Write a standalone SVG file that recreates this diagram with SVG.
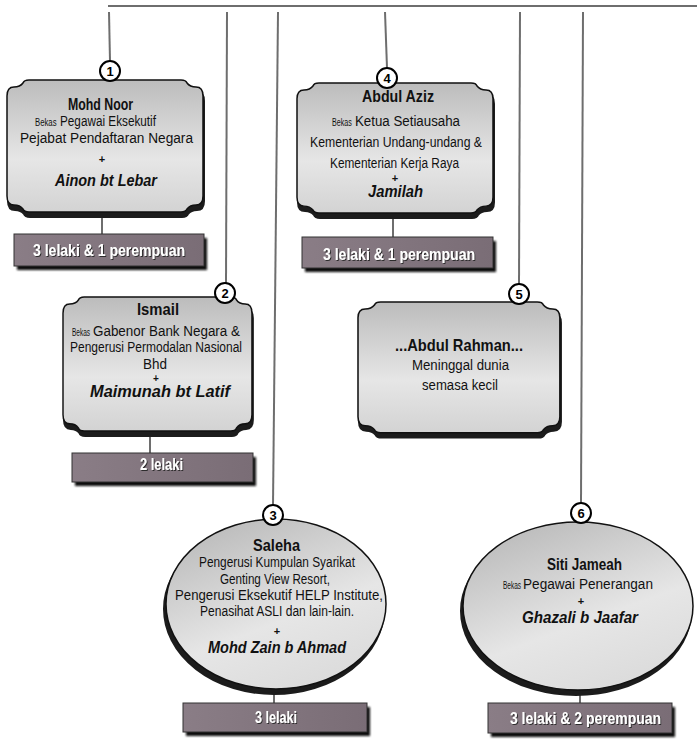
<svg xmlns="http://www.w3.org/2000/svg" width="697" height="739" viewBox="0 0 697 739">
<defs>
<linearGradient id="gBox" x1="0" y1="0" x2="0" y2="1">
<stop offset="0" stop-color="#bcbcbc"/><stop offset="0.6" stop-color="#e6e6e6"/><stop offset="1" stop-color="#d3d3d3"/>
</linearGradient>
<linearGradient id="gEll" x1="0.1" y1="0" x2="0.6" y2="1">
<stop offset="0" stop-color="#b6b6b6"/><stop offset="0.65" stop-color="#e6e6e6"/><stop offset="1" stop-color="#dcdcdc"/>
</linearGradient>
<linearGradient id="gLab" x1="0" y1="0" x2="1" y2="0">
<stop offset="0" stop-color="#8a7d86"/><stop offset="1" stop-color="#7a6d76"/>
</linearGradient>
<filter id="ts" x="-10%" y="-40%" width="120%" height="180%"><feDropShadow dx="1" dy="1" stdDeviation="0.4" flood-color="#222" flood-opacity="0.9"/></filter>
<filter id="bl" x="-10%" y="-20%" width="120%" height="150%"><feGaussianBlur stdDeviation="1.2"/></filter>
<path id="scroll" d="M22,0 H174 Q179,0 180,3 Q183,7 189,7 Q196,7 196,16 V116 Q196,125 189,125 Q183,125 180,129 Q179,132 174,132 H22 Q17,132 16,129 Q13,125 7,125 Q0,125 0,116 V16 Q0,7 7,7 Q13,7 16,3 Q17,0 22,0 Z"/>
</defs>
<style>
.ln{stroke:#6e6e6e;stroke-width:2;fill:none}
.box{fill:url(#gBox);stroke:#111;stroke-width:1.5}
.ell{fill:url(#gEll);stroke:#111;stroke-width:1.5}
.shd{fill:#1c1c1c;stroke:#1c1c1c;stroke-width:2}
.num circle{fill:#fff;stroke:#000;stroke-width:2}
text{font-family:"Liberation Sans Narrow","Liberation Sans",Arial,sans-serif;fill:#111}
.nm{font-weight:bold;font-size:16.5px}
.sp{font-weight:bold;font-style:italic;font-size:16px}
.tx{font-size:14px}
.sm{font-size:10.5px}
.pl{font-weight:bold;font-size:11px;text-anchor:middle}
.bg{fill:url(#gLab);stroke:#333;stroke-width:1}
.bs{fill:#111;filter:url(#bl)}
.lt{fill:#fff;font-weight:bold;font-size:17px;filter:url(#ts)}
.nt{font-weight:bold;font-size:13px;text-anchor:middle;fill:#000}
</style>

<g id="connectors">
<line class="ln" x1="108" y1="6" x2="697" y2="6"/>
<line class="ln" x1="109" y1="12" x2="110" y2="61"/>
<line class="ln" x1="227" y1="12" x2="226" y2="283"/>
<line class="ln" x1="278" y1="12" x2="273" y2="505"/>
<line class="ln" x1="385" y1="12" x2="387" y2="68"/>
<line class="ln" x1="520" y1="12" x2="519" y2="284"/>
<line class="ln" x1="583" y1="12" x2="581" y2="503"/>
<line class="ln" x1="102" y1="214" x2="102" y2="234"/>
<line class="ln" x1="393" y1="216" x2="393" y2="237"/>
<line class="ln" x1="150" y1="434" x2="150" y2="453"/>
<line class="ln" x1="274" y1="690" x2="274" y2="703"/>
<line class="ln" x1="580" y1="690" x2="580" y2="703"/>
</g>

<g id="node1">
<g transform="translate(7,80)">
<use href="#scroll" class="shd" transform="translate(1,5)"/>
<use href="#scroll" class="box"/>
</g>
<g class="num"><circle cx="110" cy="71" r="10"/><text class="nt" x="110" y="75.5">1</text></g>
<text class="nm" x="68" y="110" textLength="65" lengthAdjust="spacingAndGlyphs">Mohd Noor</text>
<text class="sm" transform="translate(35,126) scale(0.74,1)">Bekas</text>
<text class="tx" x="60" y="126" textLength="96" lengthAdjust="spacingAndGlyphs">Pegawai Eksekutif</text>
<text class="tx" x="20" y="143" textLength="173" lengthAdjust="spacingAndGlyphs">Pejabat Pendaftaran Negara</text>
<text class="pl" x="102" y="163">+</text>
<text class="sp" x="55" y="186" textLength="102" lengthAdjust="spacingAndGlyphs">Ainon bt Lebar</text>
</g>
<g id="label1">
<rect class="bs" x="17" y="238" width="190" height="32"/>
<rect class="bg" x="14" y="234" width="190" height="32"/>
<text class="lt" x="33" y="256" textLength="152" lengthAdjust="spacingAndGlyphs">3 lelaki &amp; 1 perempuan</text>
</g>

<g id="node4">
<g transform="translate(297,83) scale(1,0.985)">
<use href="#scroll" class="shd" transform="translate(1,5)"/>
<use href="#scroll" class="box"/>
</g>
<g class="num"><circle cx="387" cy="78" r="10"/><text class="nt" x="387" y="82.5">4</text></g>
<text class="nm" x="362" y="102" textLength="72" lengthAdjust="spacingAndGlyphs">Abdul Aziz</text>
<text class="sm" transform="translate(332,126) scale(0.68,1)">Bekas</text>
<text class="tx" x="355" y="126" textLength="105" lengthAdjust="spacingAndGlyphs">Ketua Setiausaha</text>
<text class="tx" x="310" y="147" textLength="172" lengthAdjust="spacingAndGlyphs">Kementerian Undang-undang &amp;</text>
<text class="tx" x="330" y="168" textLength="129" lengthAdjust="spacingAndGlyphs">Kementerian Kerja Raya</text>
<text class="pl" x="395" y="182">+</text>
<text class="sp" x="368" y="197" textLength="55" lengthAdjust="spacingAndGlyphs">Jamilah</text>
</g>
<g id="label4">
<rect class="bs" x="305" y="241" width="191" height="31"/>
<rect class="bg" x="302" y="237" width="191" height="31"/>
<text class="lt" x="323" y="260" textLength="152" lengthAdjust="spacingAndGlyphs">3 lelaki &amp; 1 perempuan</text>
</g>

<g id="node2">
<g transform="translate(63,297) scale(0.964,1.015)">
<use href="#scroll" class="shd" transform="translate(1,5)"/>
<use href="#scroll" class="box"/>
</g>
<g class="num"><circle cx="225" cy="293" r="10"/><text class="nt" x="225" y="297.5">2</text></g>
<text class="nm" x="137" y="315" textLength="42" lengthAdjust="spacingAndGlyphs">Ismail</text>
<text class="sm" transform="translate(72,336) scale(0.62,1)">Bekas</text>
<text class="tx" x="93" y="336" textLength="147" lengthAdjust="spacingAndGlyphs">Gabenor Bank Negara &amp;</text>
<text class="tx" x="70" y="352" textLength="172" lengthAdjust="spacingAndGlyphs">Pengerusi Permodalan Nasional</text>
<text class="tx" x="143" y="369" textLength="24" lengthAdjust="spacingAndGlyphs">Bhd</text>
<text class="pl" x="156" y="382" style="font-size:10px">+</text>
<text class="sp" x="90" y="397" textLength="140" lengthAdjust="spacingAndGlyphs">Maimunah bt Latif</text>
</g>
<g id="label2">
<rect class="bs" x="75" y="457" width="181" height="29"/>
<rect class="bg" x="72" y="453" width="181" height="29"/>
<text class="lt" x="140" y="470" textLength="43" lengthAdjust="spacingAndGlyphs">2 lelaki</text>
</g>

<g id="node5">
<g transform="translate(358,302) scale(1.03,0.99)">
<use href="#scroll" class="shd" transform="translate(1,5)"/>
<use href="#scroll" class="box"/>
</g>
<g class="num"><circle cx="519" cy="294" r="10"/><text class="nt" x="519" y="298.5">5</text></g>
<text class="nm" x="395" y="351" textLength="128" lengthAdjust="spacingAndGlyphs">...Abdul Rahman...</text>
<text class="tx" x="412" y="370" textLength="97" lengthAdjust="spacingAndGlyphs">Meninggal dunia</text>
<text class="tx" x="422" y="390" textLength="76" lengthAdjust="spacingAndGlyphs">semasa kecil</text>
</g>

<g id="node3">
<ellipse class="shd" cx="274" cy="609" rx="110" ry="85"/>
<ellipse class="ell" cx="276" cy="604" rx="110" ry="85"/>
<g class="num"><circle cx="273" cy="515" r="10"/><text class="nt" x="273" y="519.5">3</text></g>
<text class="nm" x="253" y="551" textLength="47" lengthAdjust="spacingAndGlyphs">Saleha</text>
<text class="tx" x="199" y="567" textLength="156" lengthAdjust="spacingAndGlyphs">Pengerusi Kumpulan Syarikat</text>
<text class="tx" x="220" y="584" textLength="110" lengthAdjust="spacingAndGlyphs">Genting View Resort,</text>
<text class="tx" x="175" y="600" textLength="208" lengthAdjust="spacingAndGlyphs">Pengerusi Eksekutif HELP Institute,</text>
<text class="tx" x="200" y="616" textLength="154" lengthAdjust="spacingAndGlyphs">Penasihat ASLI dan lain-lain.</text>
<text class="pl" x="277" y="635">+</text>
<text class="sp" x="208" y="653" textLength="138" lengthAdjust="spacingAndGlyphs">Mohd Zain b Ahmad</text>
</g>
<g id="label3">
<rect class="bs" x="186" y="707" width="184" height="29"/>
<rect class="bg" x="183" y="703" width="184" height="29"/>
<text class="lt" x="255" y="723" textLength="42" lengthAdjust="spacingAndGlyphs">3 lelaki</text>
</g>

<g id="node6">
<ellipse class="shd" cx="576" cy="611" rx="115" ry="84"/>
<ellipse class="ell" cx="578" cy="606" rx="115" ry="84"/>
<g class="num"><circle cx="581" cy="513" r="10"/><text class="nt" x="581" y="517.5">6</text></g>
<text class="nm" x="547" y="570" textLength="75" lengthAdjust="spacingAndGlyphs">Siti Jameah</text>
<text class="sm" transform="translate(503,589) scale(0.62,1)">Bekas</text>
<text class="tx" x="523" y="589" textLength="130" lengthAdjust="spacingAndGlyphs">Pegawai Penerangan</text>
<text class="pl" x="581" y="605">+</text>
<text class="sp" x="522" y="623" textLength="116" lengthAdjust="spacingAndGlyphs">Ghazali b Jaafar</text>
</g>
<g id="label6">
<rect class="bs" x="491" y="707" width="184" height="30"/>
<rect class="bg" x="488" y="703" width="184" height="30"/>
<text class="lt" x="510" y="724" textLength="151" lengthAdjust="spacingAndGlyphs">3 lelaki &amp; 2 perempuan</text>
</g>
</svg>
